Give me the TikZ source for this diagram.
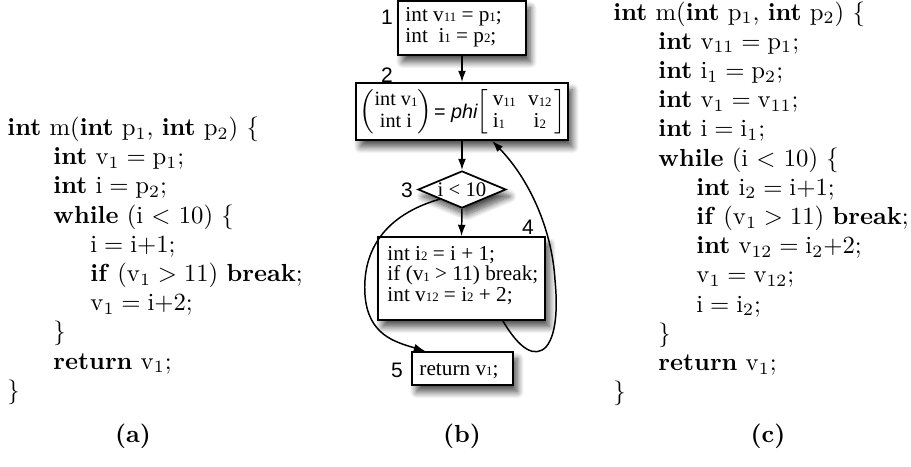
\documentclass[tikz,border=0pt]{standalone}
\usepackage{fontspec}
\usetikzlibrary{shapes.geometric,arrows.meta,shadows.blur}
\newfontfamily\tms{Liberation Serif}
\newfontfamily\hlv{Liberation Sans}
\newcommand\tsb[1]{\raisebox{-0.4pt}{\fontsize{5.2}{5.2}\selectfont #1}}
\begin{document}
\begin{tikzpicture}[x=0.405pt,y=-0.405pt,
  code/.style={anchor=base west,inner sep=0pt},
  box/.style={draw=black,fill=white,line width=0.7pt,inner sep=0pt,
    blur shadow={shadow xshift=1.8pt,shadow yshift=-2.8pt,shadow blur radius=2.6pt,shadow blur steps=12,shadow opacity=70}},
  btxt/.style={anchor=base west,inner sep=0pt,font=\tms\fontsize{8.6}{9}\selectfont},
  lbl/.style={inner sep=0pt,font=\hlv\fontsize{8.5}{9}\selectfont},
  arr/.style={line width=0.6pt,-{Latex[length=4.6pt,width=3.2pt]}},
  captxt/.style={inner sep=0pt,font=\bfseries}]
\useasboundingbox (0,0) rectangle (911,467);
% ---------- (a) ----------
\node[code] (a1) at (7,135.5) {\textbf{int} m(\textbf{int} p$_1$, \textbf{int} p$_2$) \{};
\node[code] (a2) at (53,164.7) {\textbf{int} $\mathrm{v}_1 = \mathrm{p}_1$;};
\node[code] (a3) at (53,193.9) {\textbf{int} $\mathrm{i} = \mathrm{p}_2$;};
\node[code] (a4) at (53,223.1) {\textbf{while} (i $<$ 10) \{};
\node[code] (a5) at (90,252.3) {$\mathrm{i} = \mathrm{i}$+1;};
\node[code] (a6) at (90,281.5) {\textbf{if} ($\mathrm{v}_1 > 11$) \textbf{break};};
\node[code] (a7) at (90,310.7) {$\mathrm{v}_1 = \mathrm{i}$+2;};
\node[code] (a8) at (53,339.9) {\}};
\node[code] (a9) at (53,369.1) {\textbf{return} $\mathrm{v}_1$;};
\node[code] (a10) at (7,398.3) {\}};
% ---------- (c) ----------
\node[code] (c1) at (613,20) {\textbf{int} m(\textbf{int} p$_1$, \textbf{int} p$_2$) \{};
\node[code] (c2) at (658,49.2) {\textbf{int} $\mathrm{v}_{11} = \mathrm{p}_1$;};
\node[code] (c3) at (658,78.4) {\textbf{int} $\mathrm{i}_1 = \mathrm{p}_2$;};
\node[code] (c4) at (658,107.6) {\textbf{int} $\mathrm{v}_1 = \mathrm{v}_{11}$;};
\node[code] (c5) at (658,136.8) {\textbf{int} $\mathrm{i} = \mathrm{i}_1$;};
\node[code] (c6) at (658,166) {\textbf{while} (i $<$ 10) \{};
\node[code] (c7) at (696,195.2) {\textbf{int} $\mathrm{i}_2 = \mathrm{i}$+1;};
\node[code] (c8) at (696,224.4) {\textbf{if} ($\mathrm{v}_1 > 11$) \textbf{break};};
\node[code] (c9) at (696,253.6) {\textbf{int} $\mathrm{v}_{12} = \mathrm{i}_2$+2;};
\node[code] (c10) at (696,282.8) {$\mathrm{v}_1 = \mathrm{v}_{12}$;};
\node[code] (c11) at (696,312) {$\mathrm{i} = \mathrm{i}_2$;};
\node[code] (c12) at (658,341.2) {\}};
\node[code] (c13) at (658,370.4) {\textbf{return} $\mathrm{v}_1$;};
\node[code] (c14) at (613,399.6) {\}};
% ---------- (b) ----------
\node[box,minimum width=51.8pt,minimum height=21.9pt] (b1) at (462,28) {};
\node[box,minimum width=85.9pt,minimum height=23.1pt] (b2) at (462,111.5) {};
\node[box,diamond,aspect=2.4,minimum width=35.6pt,minimum height=15pt,font=\tms\fontsize{8.4}{8.9}\selectfont] (d3) at (462,189.5) {i < 10};
\node[box,minimum width=67.6pt,minimum height=33.6pt] (b4) at (461.5,278.5) {};
\node[box,minimum width=40.9pt,minimum height=13.4pt] (b5) at (462.5,368.5) {};
\node[btxt] (t1a) at (405,21) {int v\tsb{11} = p\tsb{1};};
\node[btxt] (t1b) at (405,42) {int\ \ i\tsb{1} = p\tsb{2};};
\node[inner sep=0pt,font=\tms\fontsize{8.2}{9}\selectfont] (b2l) at (396,112)
  {$\left(\begin{tabular}{@{}c@{}}int v\tsb{1}\\int i\end{tabular}\right)$};
\node[inner sep=0pt,font=\hlv\fontsize{8}{9}\selectfont] (b2e) at (456,113) {= \textit{phi}};
\node[inner sep=0pt,font=\tms\fontsize{8.6}{9}\selectfont] (b2r) at (521,112)
  {$\left[\begin{tabular}{@{\hspace{2pt}}l@{\hspace{5pt}}c@{\hspace{1pt}}}v\tsb{11} & v\tsb{12}\\i\tsb{1} & i\tsb{2}\end{tabular}\right]$};
\node[btxt] (t4a) at (387,260) {int i\tsb{2} = i + 1;};
\node[btxt] (t4b) at (387,280.5) {if (v\tsb{1} > 11) break;};
\node[btxt] (t4c) at (387,301) {int v\tsb{12} = i\tsb{2} + 2;};
\node[btxt] (t5) at (419,375) {return v\tsb{1};};
\node[lbl] (l1) at (387,17) {1};
\node[lbl] (l2) at (387,75) {2};
\node[lbl] (l3) at (407,190) {3};
\node[lbl] (l4) at (528,227) {4};
\node[lbl] (l5) at (397,370) {5};
\draw[arr] (b1.south) -- (b2.north);
\draw[arr] (b2.south) -- (d3.north);
\draw[arr] (d3.south) -- (b4.north);
\draw[arr] (d3.south west) .. controls (385,215) and (362,250) .. (365,295)
  .. controls (368,335) and (395,342) .. ([xshift=5.7pt]b5.north west);
\draw[arr] ([xshift=-17.4pt]b4.south east) .. controls (520,350) and (535,358) .. (546,347)
  .. controls (558,333) and (557,300) .. (555,280)
  .. controls (552,230) and (530,180) .. ([xshift=12.2pt]b2.south);
% ---------- captions ----------
\node[captxt] (capa) at (133,436) {(a)};
\node[captxt] (capb) at (462,436) {(b)};
\node[captxt] (capc) at (768,436) {(c)};
\end{tikzpicture}
\end{document}
